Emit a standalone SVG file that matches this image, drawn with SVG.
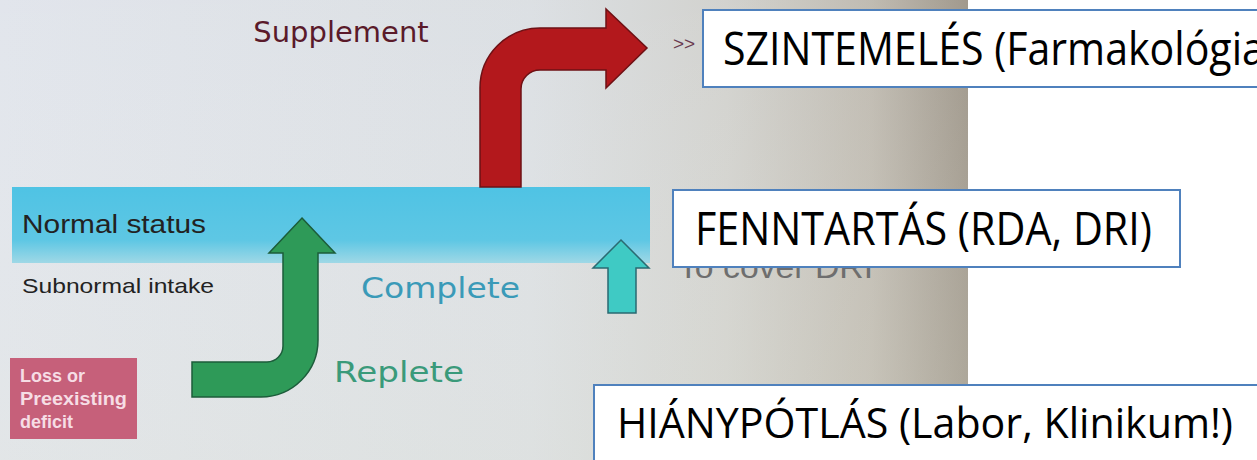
<svg xmlns="http://www.w3.org/2000/svg" width="1257" height="460" viewBox="0 0 1257 460">
  <defs>
    <linearGradient id="photoBg" x1="0" y1="0" x2="1" y2="0">
      <stop offset="0" stop-color="#e0e4eb"/>
      <stop offset="0.55" stop-color="#dadee2"/>
      <stop offset="0.75" stop-color="#d0d0cc"/>
      <stop offset="0.9" stop-color="#bdb8ae"/>
      <stop offset="1" stop-color="#9c9487"/>
    </linearGradient>
    <linearGradient id="photoShade" x1="0" y1="0" x2="0" y2="1">
      <stop offset="0" stop-color="#ffffff" stop-opacity="0.05"/>
      <stop offset="1" stop-color="#e8eadc" stop-opacity="0.25"/>
    </linearGradient>
    <linearGradient id="band" x1="0" y1="0" x2="0" y2="1">
      <stop offset="0" stop-color="#4fc3e4"/>
      <stop offset="0.7" stop-color="#5ec7e4"/>
      <stop offset="1" stop-color="#9fd8e6"/>
    </linearGradient>
    <style>
      .box { fill: #ffffff; stroke: #4f81bd; stroke-width: 2; }
      .big { font-family: "Open Sans", "Noto Sans", sans-serif; fill: #000000; }
      .slide { font-family: "Liberation Sans", Arial, sans-serif; }
      .dark { fill: #222222; }
      .hand { font-family: "DejaVu Sans", "Noto Sans", sans-serif; }
    </style>
  </defs>

  <!-- photo background -->
  <rect x="0" y="0" width="1257" height="460" fill="#ffffff"/>
  <rect x="0" y="0" width="968" height="460" fill="url(#photoBg)"/>
  <rect x="0" y="0" width="968" height="460" fill="url(#photoShade)"/>

  <!-- slide content -->
  <rect id="normal-band" x="12" y="187" width="638" height="76" fill="url(#band)"/>

  <g id="supplement-label">
    <text class="hand" x="341" y="42" font-size="29" fill="#5a1a2a" text-anchor="middle">Supplement</text>
  </g>

  <g id="normal-status">
    <text class="slide dark" x="22" y="233" font-size="25" textLength="184" lengthAdjust="spacingAndGlyphs">Normal status</text>
  </g>
  <g id="subnormal-intake">
    <text class="slide dark" x="22" y="293" font-size="21" textLength="192" lengthAdjust="spacingAndGlyphs">Subnormal intake</text>
  </g>

  <g id="loss-deficit">
    <rect x="10" y="358" width="127" height="81" fill="#c6607a"/>
    <text class="slide" font-size="18" font-weight="bold" fill="#f6dde5">
      <tspan x="20" y="382">Loss or</tspan>
      <tspan x="20" y="405" textLength="107" lengthAdjust="spacingAndGlyphs">Preexisting</tspan>
      <tspan x="20" y="428">deficit</tspan>
    </text>
  </g>

  <g id="complete-label">
    <text class="hand" x="361" y="298" font-size="29" fill="#3a9ab8" textLength="159" lengthAdjust="spacingAndGlyphs">Complete</text>
  </g>
  <g id="replete-label">
    <text class="hand" x="334" y="382" font-size="29" fill="#3a9a7a" textLength="130" lengthAdjust="spacingAndGlyphs">Replete</text>
  </g>

  <g id="to-cover-dri">
    <text class="slide" x="678" y="278" font-size="32" fill="#6e6e6e" textLength="195" lengthAdjust="spacingAndGlyphs">To cover DRI</text>
  </g>

  <g id="chevrons">
    <text class="slide" x="673" y="50" font-size="19" fill="#6a3a50">&gt;&gt;</text>
  </g>

  <!-- connectors (arrows) -->
  <g id="connectors">
    <path id="arrow-supplement" d="M480,187 L480,88 A60,60 0 0 1 540,28 L606,28 L606,9 L647,48 L606,88 L606,70 L540,70 A19,19 0 0 0 521,89 L521,187 Z" fill="#b3181c" stroke="#6e1014" stroke-width="1.5"/>
    <path id="arrow-replete" d="M302,218 L335,253 L318,253 L318,340 A57,57 0 0 1 261,397 L192,397 L192,362 L267,362 A16,16 0 0 0 283,346 L283,253 L269,253 Z" fill="#2e9a58" stroke="#1c5c3a" stroke-width="1.5"/>
    <path id="arrow-cover" d="M621,240 L649,268 L636,268 L636,313 L608,313 L608,268 L593,268 Z" fill="#3fcac4" stroke="#2a6a72" stroke-width="1.5"/>
  </g>

  <!-- overlay text boxes -->
  <g id="szintemeles">
    <rect class="box" x="703" y="10" width="620" height="77"/>
    <text class="big" x="723" y="65" font-size="45" textLength="554" lengthAdjust="spacingAndGlyphs">SZINTEMELÉS (Farmakológia)</text>
  </g>
  <g id="fenntartas">
    <rect class="box" x="673" y="190" width="507" height="77"/>
    <text class="big" x="695" y="245" font-size="45" textLength="457" lengthAdjust="spacingAndGlyphs">FENNTARTÁS (RDA, DRI)</text>
  </g>
  <g id="hianypotlas">
    <rect class="box" x="594" y="385" width="720" height="100"/>
    <text class="big" x="617" y="438" font-size="42" textLength="616" lengthAdjust="spacingAndGlyphs">HIÁNYPÓTLÁS (Labor, Klinikum!)</text>
  </g>
</svg>
